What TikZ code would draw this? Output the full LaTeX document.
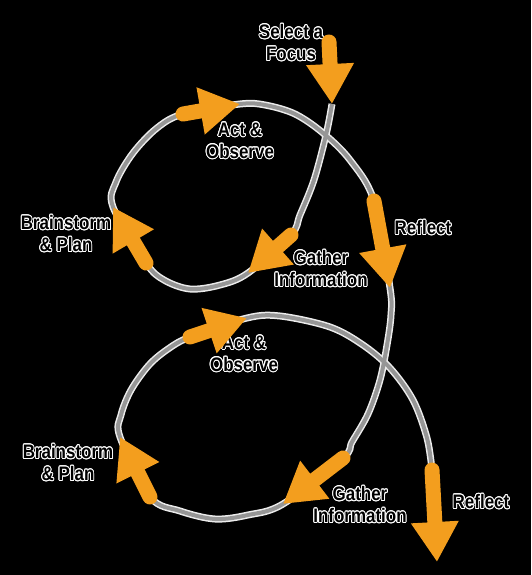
\documentclass[tikz,border=0pt]{standalone}
\usepackage{fontspec}
\setmainfont{Liberation Sans}[FakeStretch=0.87]
\usepackage{contour}
\contourlength{0.9pt}
\usetikzlibrary{arrows.meta}
\definecolor{cycleorange}{RGB}{243,158,30}
\definecolor{cyclegray}{RGB}{150,150,150}
\tikzset{
	track/.style={line width=7pt, white!85!gray},
	trackcore/.style={line width=4pt, cyclegray},
	stage/.style={cycleorange, line width=15pt, line cap=round, -{Triangle[length=40pt,width=45pt]}},
	lbl/.style={align=center, text=black, inner sep=0pt, font=\bfseries\fontsize{19.5}{22}\selectfont}
}
\newcommand{\outl}[1]{\contour{white}{#1}}

\begin{document}
\begin{tikzpicture}[x=1pt,y=-1pt]
			\fill[black] (0,0) rectangle (531,575);
			\useasboundingbox (0,0) rectangle (531,575);
			% arrow ends
			\coordinate (focusA) at (329,42);   \coordinate (focusB) at (332,104);
			\coordinate (gatherA1) at (291,235); \coordinate (gatherB1) at (248,273);
			\coordinate (brainA1) at (146,263);  \coordinate (brainB1) at (113,207);
			\coordinate (actA1) at (183,114);    \coordinate (actB1) at (240,104);
			\coordinate (reflA1) at (374,201);   \coordinate (reflB1) at (390,288);
			\coordinate (gatherA2) at (343,458); \coordinate (gatherB2) at (283,504);
			\coordinate (brainA2) at (150,497);  \coordinate (brainB2) at (120,437);
			\coordinate (actA2) at (190,337);    \coordinate (actB2) at (247,318);
			\coordinate (reflA2) at (432,470);   \coordinate (reflB2) at (437,562);
			% the spiral
			\foreach \s in {track,trackcore} {
				\draw[\s] plot[smooth, tension=0.55] coordinates {
					(focusB) (326,135) (314,180) (300,215) (gatherA1)
					(gatherB1) (220,285) (190,289) (164,280) (brainA1)
					(brainB1) (116,182) (133,153) (157,128) (actA1)
					(actB1) (265,105) (295,114) (323,133) (350,160) (reflA1)
					(reflB1) (391,315) (387,345) (380,380) (368,414) (352,442) (gatherA2)
					(gatherB2) (248,515) (215,519) (180,511) (brainA2)
					(brainB2) (121,415) (131,390) (149,365) (168,349) (actA2)
					(actB2) (280,316) (330,327) (363,345) (390,368) (413,400) (427,438) (reflA2)};
			}
			% labels
			\node[lbl] (focus) at (291,43) {\outl{Select a}\\\outl{Focus}};
			\node[lbl] (act1) at (240,141) {\outl{Act \&}\\\outl{Observe}};
			\node[lbl] (brain1) at (66,234) {\outl{Brainstorm}\\\outl{\& Plan}};
			\node[lbl] (gather1) at (321,269) {\outl{Gather}\\\outl{Information}};
			\node[lbl] (refl1) at (423,228) {\outl{Reflect}};
			\node[lbl] (act2) at (244,354) {\outl{Act \&}\\\outl{Observe}};
			\node[lbl] (brain2) at (68,463) {\outl{Brainstorm}\\\outl{\& Plan}};
			\node[lbl] (gather2) at (360,505) {\outl{Gather}\\\outl{Information}};
			\node[lbl] (refl2) at (481,502) {\outl{Reflect}};
			% orange stage arrows
			\draw[stage] (focusA) -- (focusB);
			\foreach \n in {1,2} {
				\draw[stage] (gatherA\n) -- (gatherB\n);
				\draw[stage] (brainA\n) -- (brainB\n);
				\draw[stage] (actA\n) -- (actB\n);
				\draw[stage] (reflA\n) -- (reflB\n);
			}
		\end{tikzpicture}
\end{document}
